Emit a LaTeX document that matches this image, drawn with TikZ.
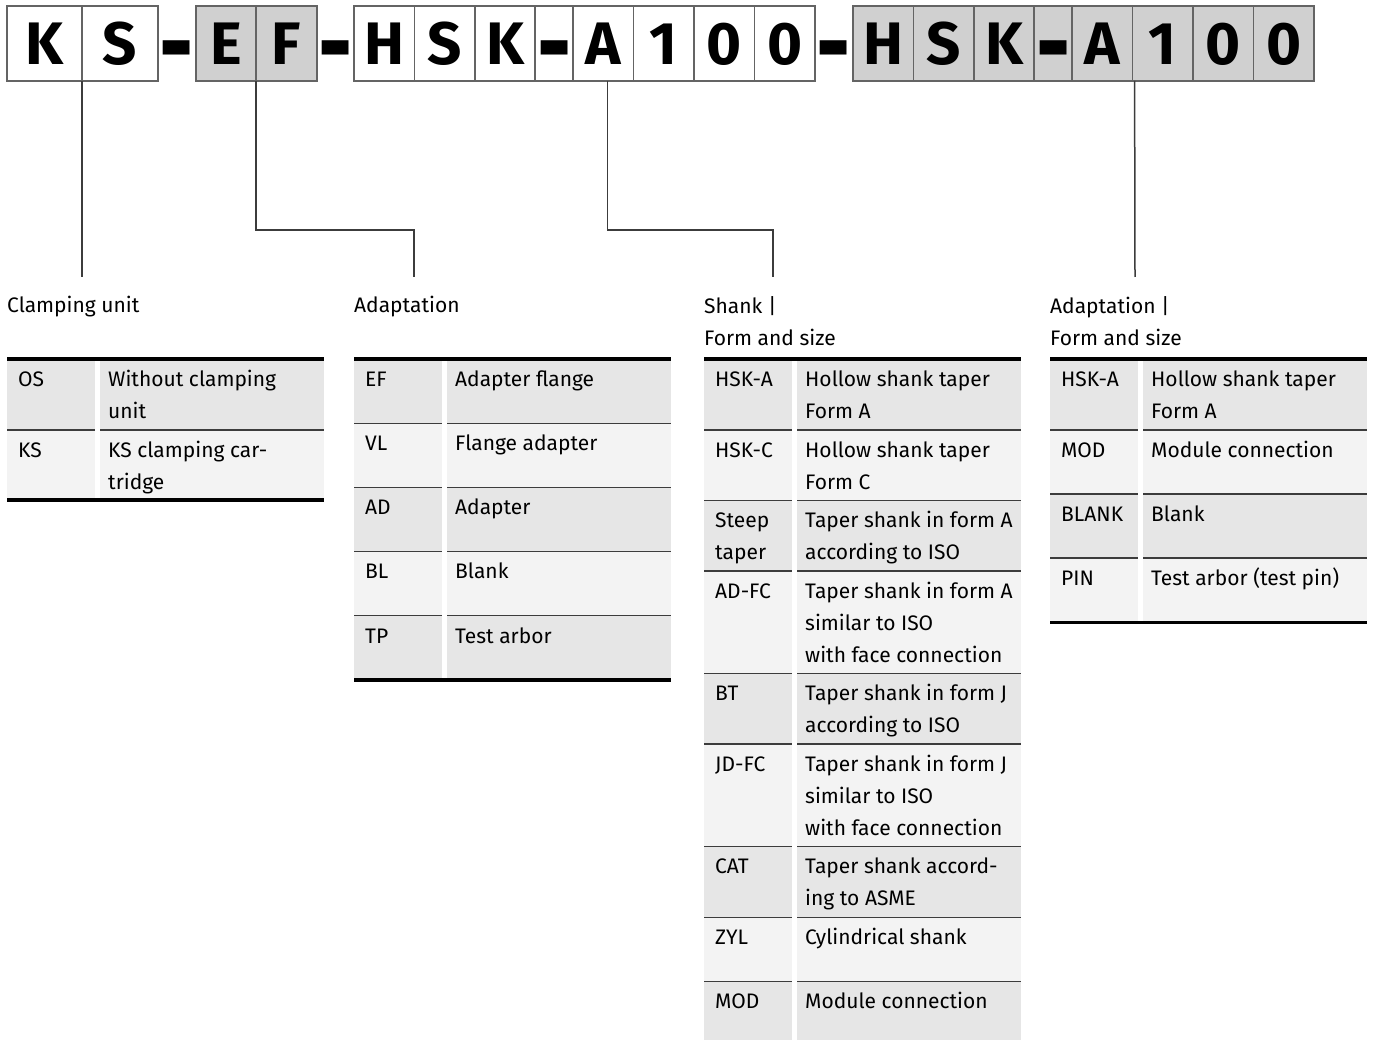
\documentclass[tikz,border=0pt]{standalone}
\usepackage{fontspec}
\setmainfont{Fira Sans}
\usepackage{xcolor}
\usetikzlibrary{positioning}
\definecolor{cellgray}{RGB}{208,208,208}
\definecolor{framegray}{RGB}{100,100,100}
\definecolor{rowdark}{RGB}{230,230,230}
\definecolor{rowlight}{RGB}{243,243,243}
\definecolor{rulegray}{RGB}{60,60,60}
\newcommand{\tabfont}{\fontsize{21}{32}\selectfont}
\newcommand{\keyfont}{\fontsize{60}{60}\selectfont\bfseries}
\newcommand{\keydash}{\raisebox{-20pt}{\scalebox{1.4}[1.95]{-}}}
\tikzset{
  keycell/.style={draw=framegray, line width=1.5pt, outer sep=0pt, inner sep=0pt, minimum height=75pt, text height=42pt, text depth=0pt, font=\keyfont},
  lettercell/.style={keycell, minimum width=60.4pt},
  joiner/.style={keycell, draw=none, minimum width=38pt},
  shaded/.style={fill=cellgray},
  link/.style={draw=rulegray, line width=1.5pt},
  headtext/.style={anchor=north west, inner sep=0pt, align=left, font=\tabfont},
  codetext/.style={headtext},
  desctext/.style={headtext},
  rowline/.style={draw=rulegray, line width=1.3pt},
  thickrule/.style={draw=black, line width=3.2pt},
}

\begin{document}
\begin{tikzpicture}[x=1pt, y=-1pt]
  \fill[white] (0,0) rectangle (1373,1040);
  \useasboundingbox (0,0) rectangle (1373,1040);

  % type key: KS - EF - HSK-A100 - HSK-A100
  \node[keycell, minimum width=75pt, anchor=north west] (k1) at (7,6) {K};
  \node[keycell, minimum width=76pt, right=0pt of k1] (s1) {S};
  \node[joiner, right=0pt of s1] (j1) {\keydash};
  \node[keycell, shaded, minimum width=60pt, right=0pt of j1] (e2) {E};
  \node[keycell, shaded, minimum width=61pt, right=0pt of e2] (f2) {F};
  \node[joiner, minimum width=37pt, right=0pt of f2] (j2) {\keydash};
  \foreach \ch/\dx/\w [count=\n] in {H/0/60.4, S/60.4/60.4, K/120.8/60.4, \keydash/181.2/38,
      A/219.2/60.4, 1/279.6/60.4, 0/340/60.4, 0/400.4/60.4} {
    \node[keycell, minimum width=\w pt, anchor=north west] (shank\n) at (354+\dx,6) {\ch};
    \node[keycell, shaded, minimum width=\w pt, anchor=north west] (adapt\n) at (853+\dx,6) {\ch};
  }
  \node[joiner, anchor=north west] (j3) at (815,6) {\keydash};

  % connectors
  \coordinate (e1) at (82,277);
  \coordinate (e2end) at (414,277);
  \coordinate (e3) at (773,277);
  \coordinate (e4) at (1135,277);
  \draw[link] (s1.south west) -- (e1);
  \draw[link] (f2.south west) -- ++(0,149) -| (e2end);
  \draw[link] ([xshift=4pt]shank5.south) -- ++(0,149) -| (e3);
  \draw[link] ([xshift=2pt]adapt6.south west) -- (e4);

  % headings
  \node[headtext] (clamphead) at (7,296) {Clamping unit};
  \node[headtext] (adapthead) at (354,296) {Adaptation};
  \node[headtext] (shankhead) at (704,296) {Shank |\\Form and size};
  \node[headtext] (formhead) at (1050,296) {Adaptation |\\Form and size};

  % clamping unit
  \begin{scope}[xshift=7pt]
    \foreach \ry/\rh/\rf/\cd/\ds [count=\n] in {
        359/71/rowdark/OS/{Without clamping\\unit},
        430/70/rowlight/KS/{KS clamping car-\\tridge}} {
      \fill[\rf] (0,\ry) rectangle (88,\ry+\rh);
      \fill[\rf] (93,\ry) rectangle (317,\ry+\rh);
      \draw[rowline] (0,\ry) -- (88,\ry) (93,\ry) -- (317,\ry);
      \node[codetext] (clampcode\n) at (11,\ry+4.6) {\strut\cd};
      \node[desctext] (clampdesc\n) at (101,\ry+4.6) {\strut\ds};
    }
    \draw[thickrule] (0,359) -- (317,359);
    \draw[thickrule] (0,500) -- (317,500);
  \end{scope}

  % adaptation
  \begin{scope}[xshift=354pt]
    \foreach \ry/\rh/\rf/\cd/\ds [count=\n] in {
        359/64.2/rowdark/EF/Adapter flange,
        423.2/64.2/rowlight/VL/Flange adapter,
        487.4/64.2/rowdark/AD/Adapter,
        551.6/64.2/rowlight/BL/Blank,
        615.8/64.2/rowdark/TP/Test arbor} {
      \fill[\rf] (0,\ry) rectangle (88,\ry+\rh);
      \fill[\rf] (93,\ry) rectangle (317,\ry+\rh);
      \draw[rowline] (0,\ry) -- (88,\ry) (93,\ry) -- (317,\ry);
      \node[codetext] (adcode\n) at (11,\ry+4.6) {\strut\cd};
      \node[desctext] (addesc\n) at (101,\ry+4.6) {\strut\ds};
    }
    \draw[thickrule] (0,359) -- (317,359);
    \draw[thickrule] (0,680) -- (317,680);
  \end{scope}

  % shank, form and size
  \begin{scope}[xshift=704pt]
    \foreach \ry/\rh/\rf/\cd/\ds [count=\n] in {
        359/71/rowdark/HSK-A/{Hollow shank taper\\Form A},
        430/70.5/rowlight/HSK-C/{Hollow shank taper\\Form C},
        500.5/70.5/rowdark/{Steep\\taper}/{Taper shank in form A\\according to ISO},
        571/102.5/rowlight/AD-FC/{Taper shank in form A\\similar to ISO\\with face connection},
        673.5/70.5/rowdark/BT/{Taper shank in form J\\according to ISO},
        744/102.6/rowlight/JD-FC/{Taper shank in form J\\similar to ISO\\with face connection},
        846.6/70.7/rowdark/CAT/{Taper shank accord-\\ing to ASME},
        917.3/64.4/rowlight/ZYL/Cylindrical shank,
        981.7/58.3/rowdark/MOD/Module connection} {
      \fill[\rf] (0,\ry) rectangle (88,\ry+\rh);
      \fill[\rf] (93,\ry) rectangle (317,\ry+\rh);
      \draw[rowline] (0,\ry) -- (88,\ry) (93,\ry) -- (317,\ry);
      \node[codetext] (shcode\n) at (11,\ry+4.6) {\strut\cd};
      \node[desctext] (shdesc\n) at (101,\ry+4.6) {\strut\ds};
    }
    \draw[thickrule] (0,359) -- (317,359);
  \end{scope}

  % adaptation, form and size
  \begin{scope}[xshift=1050pt]
    \foreach \ry/\rh/\rf/\cd/\ds [count=\n] in {
        359/71/rowdark/HSK-A/{Hollow shank taper\\Form A},
        430/64/rowlight/MOD/Module connection,
        494/64/rowdark/BLANK/Blank,
        558/64.3/rowlight/PIN/Test arbor (test pin)} {
      \fill[\rf] (0,\ry) rectangle (88,\ry+\rh);
      \fill[\rf] (93,\ry) rectangle (317,\ry+\rh);
      \draw[rowline] (0,\ry) -- (88,\ry) (93,\ry) -- (317,\ry);
      \node[codetext] (fmcode\n) at (11,\ry+4.6) {\strut\cd};
      \node[desctext] (fmdesc\n) at (101,\ry+4.6) {\strut\ds};
    }
    \draw[thickrule] (0,359) -- (317,359);
    \draw[thickrule] (0,622.3) -- (317,622.3);
  \end{scope}
\end{tikzpicture}
\end{document}
